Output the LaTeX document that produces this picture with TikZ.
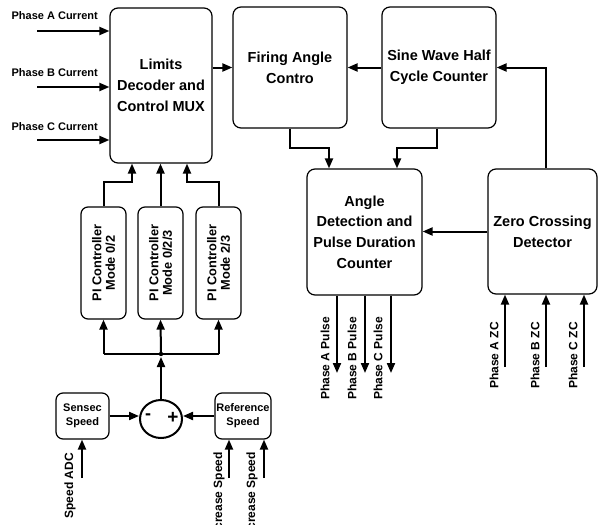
\documentclass[tikz,border=0pt]{standalone}
\usepackage{fontspec}
\setmainfont{Liberation Sans}
\usetikzlibrary{arrows.meta,shapes.geometric}

\begin{document}
\begin{tikzpicture}[x=1pt,y=-1pt,
	blk/.style={draw,line width=1.2pt,rounded corners=8pt,align=center,inner sep=0pt,font=\bfseries\fontsize{14.5}{20.7}\selectfont},
	piblk/.style={draw,line width=1.2pt,rounded corners=7pt,align=center,inner sep=0pt,rotate=90,minimum width=112pt,minimum height=45pt,font=\bfseries\fontsize{12.8}{13.5}\selectfont},
	smallblk/.style={draw,line width=1.2pt,rounded corners=7pt,align=center,inner sep=0pt,minimum height=46pt,font=\bfseries\fontsize{11}{14}\selectfont},
	sumnode/.style={draw,ellipse,line width=2pt,minimum width=42pt,minimum height=38pt,inner sep=0pt},
	arr/.style={line width=2pt,-{Triangle[length=10pt,width=8pt]}},
	wire/.style={line width=2pt},
	lbl/.style={anchor=east,inner sep=0pt,font=\bfseries\fontsize{11}{13}\selectfont},
	vlbl/.style={rotate=90,anchor=east,inner sep=0pt,font=\bfseries\fontsize{12}{14}\selectfont}
]
	\fill[white] (0,0) rectangle (598,525);
	\useasboundingbox (0,0) rectangle (598,525);

	\node[blk,minimum width=102pt,minimum height=155pt] (lim) at (161,85.5) {Limits\\Decoder and\\Control MUX};
	\node[blk,minimum width=114pt,minimum height=121pt] (fir) at (290,67.5) {Firing Angle\\Contro};
	\node[blk,minimum width=114pt,minimum height=121pt] (sin) at (439,67.5) {Sine Wave Half\\Cycle Counter};
	\node[blk,minimum width=115pt,minimum height=126pt] (ang) at (364.5,232) {Angle\\Detection and\\Pulse Duration\\Counter};
	\node[blk,minimum width=109pt,minimum height=125pt] (zer) at (542.5,231.5) {Zero Crossing\\Detector};

	\node[piblk] (pia) at (103.5,263) {PI Controller\\Mode 0/2};
	\node[piblk] (pib) at (160.5,263) {PI Controller\\Mode 0/2/3};
	\node[piblk] (pic) at (218.5,263) {PI Controller\\Mode 2/3};

	\node[smallblk,minimum width=53pt] (sen) at (82.5,416) {Sensec\\Speed};
	\node[smallblk,minimum width=56pt] (ref) at (243,416) {Reference\\Speed};
	\node[sumnode] (sum) at (161,419) {};
	\node[font=\bfseries\fontsize{18}{18}\selectfont] (minus) at (148,417) {-};
	\node[font=\bfseries\fontsize{19}{19}\selectfont] (plus) at (173,418) {+};

	\coordinate (ina) at (37,31);
	\coordinate (inb) at (37,87);
	\coordinate (inc) at (37,140);
	\node[lbl] (lina) at (98,16) {Phase A Current};
	\node[lbl] (linb) at (98,73) {Phase B Current};
	\node[lbl] (linc) at (98,127) {Phase C Current};
	\draw[arr] (ina) -- (ina -| lim.west);
	\draw[arr] (inb) -- (inb -| lim.west);
	\draw[arr] (inc) -- (inc -| lim.west);

	\draw[arr] (fir.west -| lim.east) -- (fir.west);
	\draw[arr] (sin.west) -- (fir.east);
	\draw[arr] ([xshift=3.5pt]zer.north) |- (sin.east);
	\draw[arr] (zer.west) -- (zer.west -| ang.east);
	\draw[arr] (fir.south) -- ++(0,19) -| ([xshift=-35.5pt]ang.north);
	\draw[arr] ([xshift=-2pt]sin.south) -- ++(0,19) -| ([xshift=32.5pt]ang.north);

	\draw[arr] (pia.east) -- ++(0,-24) -| ([xshift=-29pt]lim.south);
	\draw[arr] (pib.east) -- (pib.east |- lim.south);
	\draw[arr] (pic.east) -- ++(0,-24) -| ([xshift=26pt]lim.south);

	\coordinate (jn) at (161,354);
	\draw[wire] (pia.west |- jn) -- (pic.west |- jn);
	\draw[arr] (pia.west |- jn) -- (pia.west);
	\draw[arr] (jn) -- (pib.west);
	\draw[arr] (pic.west |- jn) -- (pic.west);
	\draw[arr] (sum.north) -- ([yshift=-3pt]jn);
	\fill (jn) circle (2.2pt);

	\draw[arr] (sen.east) -- (sen.east -| sum.west);
	\draw[arr] (ref.west) -- (ref.west -| sum.east);

	\coordinate (adc) at (82,478);
	\coordinate (incr) at (229,478);
	\coordinate (decr) at (264,478);
	\draw[arr] (adc) -- (adc |- sen.south);
	\draw[arr] (incr) -- (incr |- ref.south);
	\draw[arr] (decr) -- (decr |- ref.south);
	\node[vlbl] (ladc) at (70,453) {Speed ADC};
	\node[vlbl] (lincr) at (219,452) {Increase Speed};
	\node[vlbl] (ldecr) at (252,452) {Decrease Speed};

	\coordinate (pa) at (337,373);
	\coordinate (pb) at (365,373);
	\coordinate (pc) at (391,373);
	\draw[arr] (pa |- ang.south) -- (pa);
	\draw[arr] (pb |- ang.south) -- (pb);
	\draw[arr] (pc |- ang.south) -- (pc);
	\node[vlbl] (lpa) at (325,317) {Phase A Pulse};
	\node[vlbl] (lpb) at (352,317) {Phase B Pulse};
	\node[vlbl] (lpc) at (378,317) {Phase C Pulse};

	\coordinate (za) at (505,367);
	\coordinate (zb) at (546,367);
	\coordinate (zc) at (584,367);
	\draw[arr] (za) -- (za |- zer.south);
	\draw[arr] (zb) -- (zb |- zer.south);
	\draw[arr] (zc) -- (zc |- zer.south);
	\node[vlbl] (lza) at (494,322) {Phase A ZC};
	\node[vlbl] (lzb) at (535,322) {Phase B ZC};
	\node[vlbl] (lzc) at (573,322) {Phase C ZC};
\end{tikzpicture}
\end{document}
